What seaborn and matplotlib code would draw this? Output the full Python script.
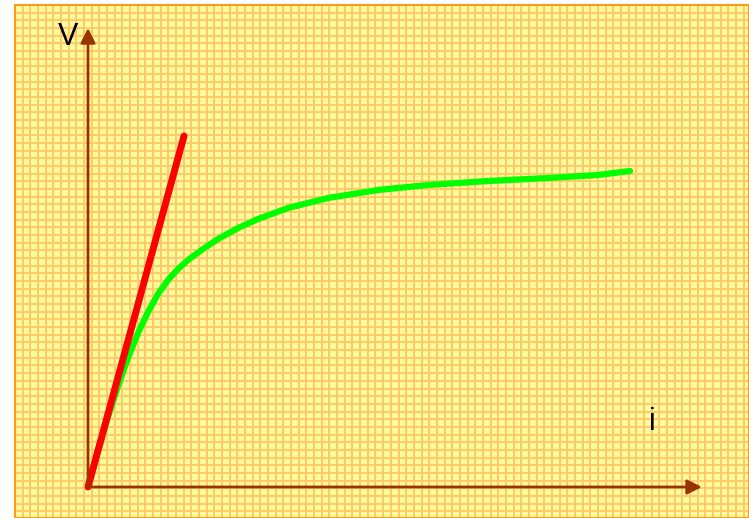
import matplotlib.pyplot as plt
import numpy as np
import seaborn as sns

sns.set_style('white')
plt.rcParams['font.family'] = ['Liberation Sans', 'DejaVu Sans']

# values (origin of the V-i axes at 0, 0)
tangent_i = [0, 96]
tangent_v = [0, 351]

curve_i = [0, 10, 20, 30, 40, 50, 60, 70, 80, 90, 100, 115, 130, 150, 170,
           200, 240, 290, 340, 400, 460, 510, 542]
curve_v = [0, 36, 70, 101, 129, 154, 175, 193, 207, 218, 227, 238, 248, 259, 268,
           279, 289, 297, 302, 306, 309, 312, 316]

fig = plt.figure(figsize=(7.49, 5.18), dpi=100)
fig.patch.set_facecolor('white')
ax = fig.add_axes([15 / 749, 0, 734 / 749, 513 / 518])
ax.set_facecolor('#FFFA9C')
ax.set_xlim(-73, 661)
ax.set_ylim(-31, 482)

# squared paper background
ax.set_xticks(np.arange(-73, 661, 7.67))
ax.set_yticks(np.arange(482, -31, -7.67))
ax.grid(True, color='#FFC866', linewidth=1.35)
ax.tick_params(length=0, labelbottom=False, labelleft=False)
for s in ax.spines.values():
    s.set_color('#FF9A1A')
    s.set_linewidth(1.5)

# axes arrows
arrow_kw = dict(arrowstyle='-|>', color='#993300', lw=2, mutation_scale=22, shrinkA=0, shrinkB=0)
ax.annotate('', xy=(614, 0), xytext=(0, 0), arrowprops=arrow_kw)
ax.annotate('', xy=(0, 459), xytext=(0, 0), arrowprops=arrow_kw)
ax.text(-10, 450, 'V', fontsize=22, ha='right', va='center', color='black')
ax.text(564, 65, 'i', fontsize=22, ha='center', va='center', color='black')

sns.lineplot(x=curve_i, y=curve_v, ax=ax, color='#00FF00', linewidth=4.5, sort=False,
             solid_joinstyle='round')
sns.lineplot(x=tangent_i, y=tangent_v, ax=ax, color='#FF0000', linewidth=5, sort=False)

fig.savefig('out.png', dpi=100)
